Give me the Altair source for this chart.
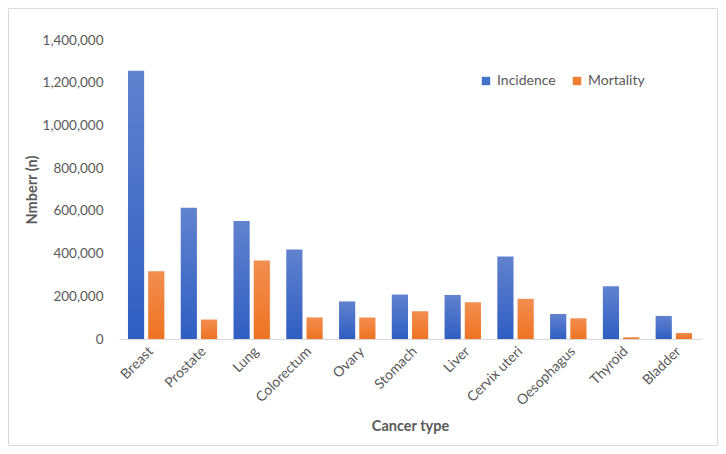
import altair as alt
import pandas as pd

categories = ["Breast", "Prostate", "Lung", "Colorectum", "Ovary", "Stomach",
              "Liver", "Cervix uteri", "Oesophagus", "Thyroid", "Bladder"]
incidence = [1256000, 615000, 552000, 419000, 176000, 208000,
             206000, 386000, 117000, 247000, 108000]
mortality = [317000, 91000, 367000, 101000, 101000, 130000,
             172000, 188000, 97000, 8000, 28000]
series = ["Incidence", "Mortality"]
y_ticks = [0, 200000, 400000, 600000, 800000, 1000000, 1200000, 1400000]

rows = []
for c, i, m in zip(categories, incidence, mortality):
    rows.append({"type": c, "series": "Incidence", "value": i})
    rows.append({"type": c, "series": "Mortality", "value": m})
df = pd.DataFrame(rows)

FONT = "Lato"
GREY = "#595959"

x_enc = alt.X("type:N", sort=categories, title="Cancer type",
              scale=alt.Scale(paddingInner=0.31, paddingOuter=0.17),
              axis=alt.Axis(labelAngle=-45, ticks=False, domainColor="#D9D9D9",
                            labelFont=FONT, labelFontSize=14, labelColor=GREY,
                            labelPadding=5, titleFont=FONT, titleFontSize=14.5,
                            titleColor=GREY, titleFontWeight="bold", titlePadding=12))
y_enc = alt.Y("value:Q", title="Nmberr (n)",
              scale=alt.Scale(domain=[0, 1400000], nice=False),
              axis=alt.Axis(values=y_ticks, format=",d", ticks=False, domain=False,
                            grid=False, labelFont=FONT, labelFontSize=13.5,
                            labelColor=GREY, labelPadding=16, titleFont=FONT,
                            titleFontSize=14.5, titleColor=GREY,
                            titleFontWeight="bold", titlePadding=3))
xo = alt.XOffset("series:N", scale=alt.Scale(domain=series, paddingInner=0.2, paddingOuter=0))

def grad(bottom, top):
    return alt.LinearGradient(gradient="linear",
                              stops=[alt.GradientStop(color=bottom, offset=0),
                                     alt.GradientStop(color=top, offset=1)],
                              x1=0, x2=0, y1=1, y2=0)

base = alt.Chart(df)
inc = base.transform_filter(alt.datum.series == "Incidence").mark_bar(
    color=grad("#2F5EC2", "#6182CE")).encode(x=x_enc, y=y_enc, xOffset=xo)
mor = base.transform_filter(alt.datum.series == "Mortality").mark_bar(
    color=grad("#EE7322", "#F28E50")).encode(x=x_enc, y=y_enc, xOffset=xo)

legend_layer = base.mark_square(opacity=0, size=1).encode(
    x=alt.X("type:N", sort=categories),
    y=alt.Y("value:Q"),
    color=alt.Color("series:N", scale=alt.Scale(domain=series, range=["#4370C9", "#F07F35"]),
                    legend=alt.Legend(title=None, orient="none", legendX=360, legendY=34,
                                      direction="horizontal", symbolType="square",
                                      symbolSize=70, symbolOpacity=1, symbolStrokeWidth=0,
                                      labelFont=FONT, labelFontSize=14, labelColor=GREY,
                                      labelOffset=4, columnPadding=14)))

border = alt.Chart(alt.Data(values=[{"a": 1}])).mark_rect(
    fill=None, stroke="#D9D9D9", strokeWidth=1).encode(
    x=alt.value(-110.5), x2=alt.value(598.5), y=alt.value(-31.5), y2=alt.value(405.5))

chart = alt.layer(border, inc, mor, legend_layer).properties(
    width=582, height=299,
    autosize=alt.AutoSizeParams(type="none"),
    padding={"left": 111, "top": 32, "right": 17, "bottom": 107},
    background="white",
).configure_view(stroke=None)

chart.save("out.html", embed_options={"renderer": "svg", "actions": False})
